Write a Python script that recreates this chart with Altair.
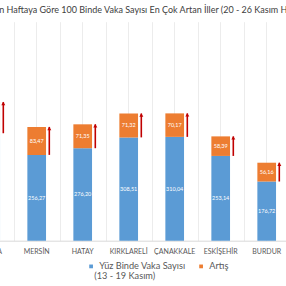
import altair as alt
import pandas as pd

# ---- data ----
iller = ["BURSA", "MERSİN", "HATAY", "KIRKLARELİ", "ÇANAKKALE", "ESKİŞEHİR", "BURDUR"]
onceki_hafta = [320.9, 256.27, 276.20, 308.51, 310.04, 253.14, 176.72]
artis = [93.0, 83.47, 71.35, 71.32, 70.17, 58.39, 56.16]
seri_adlari = ["Yüz Binde Vaka Sayısı", "Artış"]
seri_alt_satir = "(13 - 19 Kasım)"
renkler = ["#5B9BD5", "#ED7D31"]
baslik = "Geçen Haftaya Göre 100 Binde Vaka Sayısı En Çok Artan İller (20 - 26 Kasım Haftası)"
y_grid = [0, 65.4, 130.8, 196.2, 261.6, 327, 392.4, 457.8, 523.2, 588.6, 654]

FONT = "Lato"

rows = []
for il, o, a in zip(iller, onceki_hafta, artis):
    rows.append({"il": il, "seri": seri_adlari[0], "bas": 0.0, "son": o, "deger": o})
    rows.append({"il": il, "seri": seri_adlari[1], "bas": o, "son": o + a, "deger": a})
df = pd.DataFrame(rows)
ok_df = pd.DataFrame({"il": iller, "bas": onceki_hafta,
                      "son": [o + a for o, a in zip(onceki_hafta, artis)]})
baslik_df = pd.DataFrame({"t": [baslik]})
alt_satir_df = pd.DataFrame({"t": [seri_alt_satir]})

x_scale = alt.Scale(domain=iller, range=[-32.3, -32.3 + 46 * len(iller)],
                    paddingInner=0, paddingOuter=0)
y_scale = alt.Scale(domain=[0, 654], nice=False, zero=True)

bars = alt.Chart(df).mark_bar(width=alt.RelativeBandSize(0.406)).encode(
    x=alt.X("il:N", sort=iller, scale=x_scale,
            axis=alt.Axis(title=None, grid=True, gridColor="#ececec", ticks=False,
                          domainColor="#d9d9d9", labelFont=FONT, labelFontSize=7,
                          labelColor="#595959", labelPadding=6.5, labelAngle=0)),
    y=alt.Y("bas:Q", scale=y_scale,
            axis=alt.Axis(title=None, values=y_grid, labels=False, ticks=False,
                          domain=False, grid=True, gridColor="#ececec")),
    y2="son:Q",
    color=alt.Color("seri:N", scale=alt.Scale(domain=seri_adlari, range=renkler),
                    legend=alt.Legend(
                        title=None, orient="none", direction="horizontal",
                        legendX=86.5, legendY=240, padding=0,
                        symbolType="square", symbolSize=14, symbolStrokeWidth=0,
                        labelFont=FONT, labelFontSize=9.2, labelColor="#595959",
                        labelOffset=3.5, columnPadding=10, labelLimit=300)),
)

legend_line2 = alt.Chart(alt_satir_df).mark_text(
    align="left", baseline="middle", font=FONT, fontSize=9.2, color="#595959"
).encode(x=alt.value(94.3), y=alt.value(254.5), text="t:N")

labels = alt.Chart(df).transform_calculate(
    orta="(datum.bas + datum.son) / 2",
    etiket="replace(format(datum.deger, '.2f'), '.', ',')",
).mark_text(font=FONT, fontSize=5.5, color="#ffffff").encode(
    x=alt.X("il:N", sort=iller, scale=x_scale, axis=None),
    y=alt.Y("orta:Q", scale=y_scale, axis=None),
    text="etiket:N",
)

arrow_line = alt.Chart(ok_df).mark_rule(color="#C00000", strokeWidth=1.6, xOffset=12.6).encode(
    x=alt.X("il:N", sort=iller, scale=x_scale,
            axis=alt.Axis(title=None, orient="top", tickBand="extent", grid=True,
                          gridColor="#ececec", labels=False, ticks=False, domain=False)),
    y=alt.Y("bas:Q", scale=y_scale, axis=None),
    y2="son:Q",
)

arrow_head = alt.Chart(ok_df).mark_point(shape="triangle-up", filled=True, size=16,
                                         color="#C00000", opacity=1,
                                         xOffset=12.6, yOffset=1.5).encode(
    x=alt.X("il:N", sort=iller, scale=x_scale, axis=None),
    y=alt.Y("son:Q", scale=y_scale, axis=None),
)

title = alt.Chart(baslik_df).mark_text(align="left", baseline="middle", font=FONT,
                                       fontSize=9, color="#404040").encode(
    x=alt.value(-21), y=alt.value(-11.7), text="t:N")

chart = alt.layer(bars, labels, arrow_line, arrow_head, title, legend_line2).resolve_axis(
    x="independent"
).properties(
    width=286, height=219,
    autosize=alt.AutoSizeParams(type="none"),
    padding={"left": 0, "top": 21.7, "right": 0, "bottom": 45.3},
    background="white",
).configure_view(strokeWidth=0)

chart.save("out.html", embed_options={"renderer": "svg", "actions": False})
